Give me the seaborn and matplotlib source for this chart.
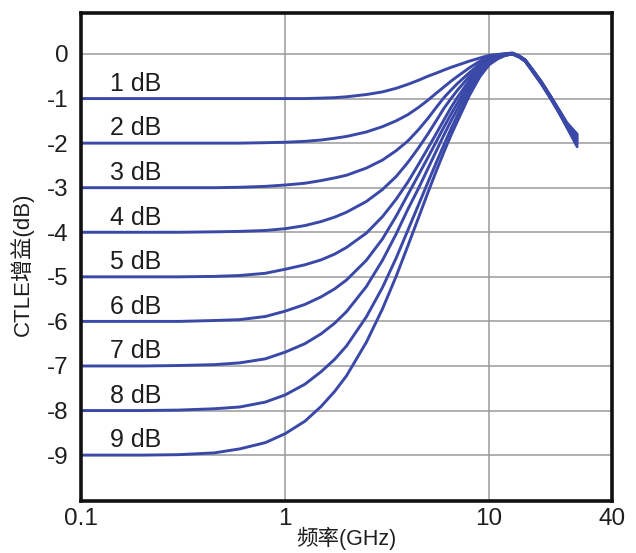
import matplotlib
matplotlib.use("Agg")
import matplotlib.pyplot as plt
from matplotlib.ticker import NullLocator
import pandas as pd
import seaborn as sns

# Frequency grid (GHz) shared by every CTLE response
freq_ghz = [0.1, 0.2, 0.3, 0.45, 0.6, 0.8, 1, 1.25, 1.5, 1.75, 2,
            2.5, 3, 3.5, 4, 4.5, 5, 5.5, 6, 6.5, 7, 8, 9,
            10, 11, 12, 13,
            14, 15, 16, 18, 20, 22, 24, 27]

# CTLE gain (dB) for each peaking setting
gain_1db = [-1.0, -1.0, -1.0, -1.0, -1.0, -1.0, -1.0, -1.0, -0.99, -0.98, -0.96,
            -0.91, -0.85, -0.77, -0.68, -0.59, -0.50, -0.43, -0.36, -0.30, -0.25, -0.16, -0.09,
            -0.03, -0.01, 0.01, 0.02,
            -0.04, -0.13, -0.30, -0.62, -0.95, -1.26, -1.54, -1.80]
gain_2db = [-2.0, -2.0, -2.0, -2.0, -2.0, -1.99, -1.98, -1.96, -1.93, -1.89, -1.85,
            -1.75, -1.63, -1.50, -1.36, -1.20, -1.04, -0.88, -0.74, -0.61, -0.50, -0.31, -0.16,
            -0.06, -0.02, 0.00, 0.02,
            -0.04, -0.13, -0.30, -0.62, -0.95, -1.26, -1.55, -1.83]
gain_3db = [-3.0, -3.0, -3.0, -3.0, -2.99, -2.97, -2.94, -2.90, -2.84, -2.78, -2.72,
            -2.56, -2.38, -2.17, -1.95, -1.70, -1.45, -1.20, -0.98, -0.81, -0.66, -0.42, -0.22,
            -0.09, -0.04, -0.01, 0.01,
            -0.05, -0.14, -0.31, -0.63, -0.96, -1.27, -1.56, -1.86]
gain_4db = [-4.0, -4.0, -4.0, -3.99, -3.98, -3.96, -3.92, -3.85, -3.76, -3.66, -3.55,
            -3.31, -3.04, -2.75, -2.43, -2.11, -1.80, -1.50, -1.22, -1.00, -0.81, -0.50, -0.27,
            -0.12, -0.05, -0.01, 0.01,
            -0.05, -0.14, -0.31, -0.63, -0.96, -1.27, -1.57, -1.89]
gain_5db = [-5.0, -5.0, -5.0, -4.99, -4.97, -4.92, -4.83, -4.73, -4.62, -4.49, -4.34,
            -4.02, -3.65, -3.26, -2.87, -2.48, -2.12, -1.79, -1.48, -1.20, -0.97, -0.59, -0.32,
            -0.14, -0.06, -0.02, 0.00,
            -0.05, -0.14, -0.32, -0.64, -0.97, -1.28, -1.58, -1.92]
gain_6db = [-6.0, -6.0, -6.0, -5.98, -5.96, -5.89, -5.77, -5.62, -5.45, -5.27, -5.07,
            -4.63, -4.15, -3.64, -3.15, -2.72, -2.33, -1.97, -1.64, -1.35, -1.10, -0.66, -0.36,
            -0.16, -0.07, -0.02, 0.00,
            -0.06, -0.15, -0.32, -0.64, -0.98, -1.29, -1.59, -1.95]
gain_7db = [-7.0, -7.0, -6.99, -6.97, -6.93, -6.84, -6.69, -6.50, -6.28, -6.04, -5.78,
            -5.22, -4.63, -4.04, -3.48, -3.02, -2.58, -2.18, -1.82, -1.50, -1.23, -0.74, -0.41,
            -0.19, -0.08, -0.02, 0.00,
            -0.06, -0.15, -0.33, -0.65, -0.98, -1.30, -1.60, -1.98]
gain_8db = [-8.0, -8.0, -7.99, -7.96, -7.92, -7.81, -7.65, -7.41, -7.13, -6.85, -6.55,
            -5.90, -5.24, -4.58, -3.95, -3.39, -2.89, -2.44, -2.04, -1.68, -1.37, -0.84, -0.46,
            -0.21, -0.09, -0.03, 0.00,
            -0.06, -0.16, -0.33, -0.66, -0.99, -1.31, -1.62, -2.02]
gain_9db = [-9.0, -9.0, -8.99, -8.95, -8.86, -8.72, -8.52, -8.24, -7.91, -7.57, -7.22,
            -6.47, -5.72, -4.99, -4.30, -3.68, -3.12, -2.63, -2.20, -1.82, -1.50, -0.93, -0.51,
            -0.24, -0.11, -0.03, 0.00,
            -0.07, -0.16, -0.34, -0.67, -1.00, -1.32, -1.64, -2.08]

peaking_labels = ["1 dB", "2 dB", "3 dB", "4 dB", "5 dB", "6 dB", "7 dB", "8 dB", "9 dB"]
dc_levels = [-1, -2, -3, -4, -5, -6, -7, -8, -9]
x_ticks = [0.1, 1, 10, 40]
x_tick_labels = ["0.1", "1", "10", "40"]
y_ticks = [0, -1, -2, -3, -4, -5, -6, -7, -8, -9]
y_tick_labels = ["0", "-1", "-2", "-3", "-4", "-5", "-6", "-7", "-8", "-9"]

curves = [gain_1db, gain_2db, gain_3db, gain_4db, gain_5db,
          gain_6db, gain_7db, gain_8db, gain_9db]
frames = [pd.DataFrame({"freq": freq_ghz, "gain": g, "setting": lab})
          for g, lab in zip(curves, peaking_labels)]
df = pd.concat(frames, ignore_index=True)

sns.set_style("white")
plt.rcParams["font.family"] = ["Liberation Sans", "Noto Sans CJK SC"]

line_color = "#3a48a8"
text_color = "#1e1e1e"

fig = plt.figure(figsize=(6.36, 5.53), dpi=100)
ax = fig.add_axes([0.1274, 0.0940, 0.8349, 0.8825])

sns.lineplot(data=df, x="freq", y="gain", hue="setting",
             palette={lab: line_color for lab in peaking_labels},
             linewidth=2.1, legend=False, ax=ax, estimator=None, sort=False)
for ln in ax.lines:
    ln.set_solid_joinstyle("round")
    ln.set_solid_capstyle("round")

ax.set_xscale("log")
ax.set_xlim(0.1, 40)
ax.set_ylim(-10.03, 0.92)
ax.set_xticks(x_ticks)
ax.set_xticklabels(x_tick_labels)
ax.xaxis.set_minor_locator(NullLocator())
ax.set_yticks(y_ticks)
ax.set_yticklabels(y_tick_labels)

ax.grid(True, color="#9a9a9a", linewidth=1.1)
ax.set_axisbelow(True)
for sp in ax.spines.values():
    sp.set_visible(True)
    sp.set_color("#111111")
    sp.set_linewidth(2.6)

ax.tick_params(axis="both", length=0, labelsize=17.5, colors=text_color)
ax.tick_params(axis="x", pad=5)
ax.tick_params(axis="y", pad=9)

for lab, lvl in zip(peaking_labels, dc_levels):
    ax.text(0.139, lvl + 0.33, lab, fontsize=18, color=text_color,
            ha="left", va="center")

ax.set_xlabel("频率(GHz)", fontsize=15.5, color=text_color)
ax.set_ylabel("CTLE增益(dB)", fontsize=16, color=text_color)
ax.xaxis.set_label_coords(0.5, -0.054)
ax.yaxis.set_label_coords(-0.088, 0.485)

fig.savefig("out.png", dpi=100)
